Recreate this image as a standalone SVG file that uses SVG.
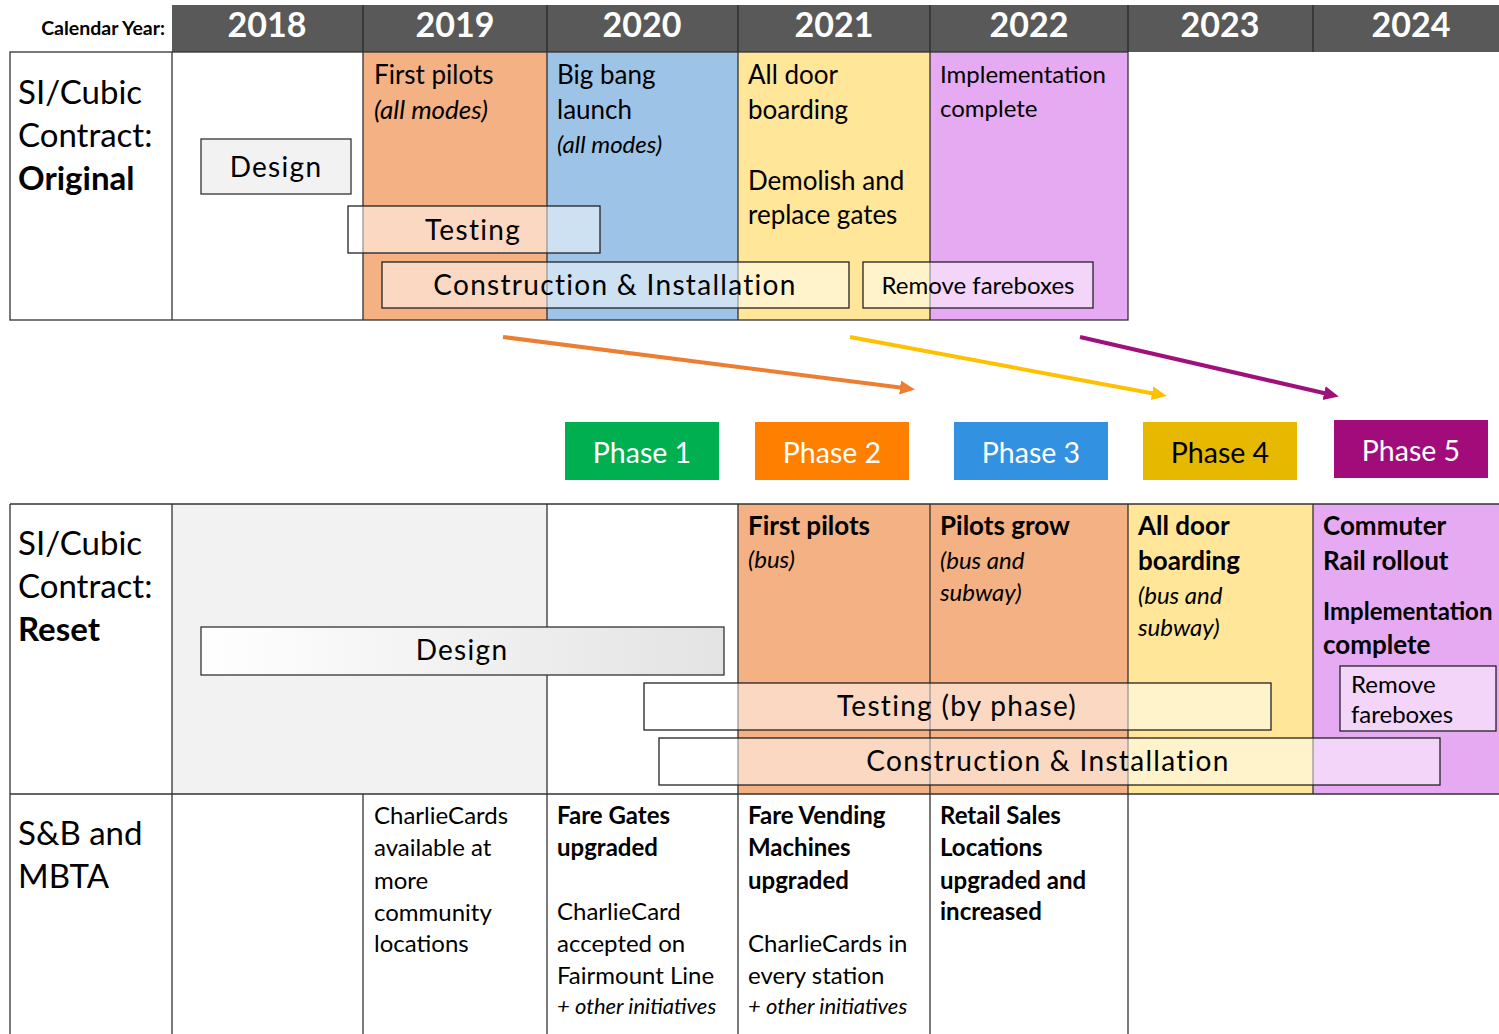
<svg xmlns="http://www.w3.org/2000/svg" width="1499" height="1034" viewBox="0 0 1499 1034">
<style>
text{font-family:Lato,"Liberation Sans",sans-serif;fill:#000}
.yr{font-size:34px;font-weight:bold;fill:#fff;text-anchor:middle}
.lab{font-size:33px}
.c{font-size:26px}
.s{font-size:24px}
.i{font-style:italic}
.b{font-weight:bold}
.sm{font-size:22px;font-style:italic}
.bar{fill:#fff;fill-opacity:.5;stroke:#222;stroke-width:1.3}
.bt{font-size:28px;letter-spacing:1.3px;text-anchor:middle}
.grid{stroke:#333;stroke-width:1.3;fill:none}
.ph{font-size:28.5px;fill:#fff;text-anchor:middle}
</style>
<defs>
<linearGradient id="gd" x1="0" x2="1" y1="0" y2="0"><stop offset="0" stop-color="#fff"/><stop offset="1" stop-color="#e3e3e3"/></linearGradient>
<marker id="mo" markerUnits="userSpaceOnUse" markerWidth="16" markerHeight="16" refX="4" refY="8" orient="auto"><path d="M0,1 L15,8 L0,15 z" fill="#ED7D31"/></marker>
<marker id="my" markerUnits="userSpaceOnUse" markerWidth="16" markerHeight="16" refX="4" refY="8" orient="auto"><path d="M0,1 L15,8 L0,15 z" fill="#FFC000"/></marker>
<marker id="mp" markerUnits="userSpaceOnUse" markerWidth="16" markerHeight="16" refX="4" refY="8" orient="auto"><path d="M0,1 L15,8 L0,15 z" fill="#A0107A"/></marker>
</defs>
<rect width="1499" height="1034" fill="#fff"/>

<g id="header">
<rect x="172" y="5" width="1327" height="47" fill="#595959"/>
<path d="M363,5V52M547,5V52M738,5V52M930,5V52M1128,5V52M1313,5V52" stroke="#2a2a2a" stroke-width="1.3"/>
<text x="165" y="35" font-size="19.5" font-weight="bold" text-anchor="end">Calendar Year:</text>
<text class="yr" x="267" y="37">2018</text>
<text class="yr" x="455" y="37">2019</text>
<text class="yr" x="642" y="37">2020</text>
<text class="yr" x="834" y="37">2021</text>
<text class="yr" x="1029" y="37">2022</text>
<text class="yr" x="1220" y="37">2023</text>
<text class="yr" x="1411" y="37">2024</text>
</g>

<g id="original">
<rect x="363" y="52" width="184" height="268" fill="#F4B183"/>
<rect x="547" y="52" width="191" height="268" fill="#9DC3E6"/>
<rect x="738" y="52" width="192" height="268" fill="#FFE699"/>
<rect x="930" y="52" width="198" height="268" fill="#E5AAF1"/>
<rect class="grid" x="10" y="52" width="1118" height="268"/>
<path class="grid" d="M172,52V320M363,52V320M547,52V320M738,52V320M930,52V320"/>
<text class="lab" x="18" y="104">SI/Cubic</text>
<text class="lab" x="18" y="147">Contract:</text>
<text class="lab b" x="18" y="190">Original</text>
<text class="c" x="374" y="84">First pilots</text>
<text class="c i" x="374" y="119">(all modes)</text>
<text class="c" x="557" y="84">Big bang</text>
<text class="c" x="557" y="119">launch</text>
<text class="s i" x="557" y="153">(all modes)</text>
<text class="c" x="748" y="84">All door</text>
<text class="c" x="748" y="119">boarding</text>
<text class="c" x="748" y="190">Demolish and</text>
<text class="c" x="748" y="224">replace gates</text>
<text class="s" x="940" y="83">Implementation</text>
<text class="s" x="940" y="117">complete</text>
</g>

<g id="o-design">
<rect x="201" y="139" width="150" height="55" fill="#f2f2f2" stroke="#333" stroke-width="1.3"/>
<text class="bt" x="276" y="177">Design</text>
</g>
<g id="o-testing">
<rect class="bar" x="348" y="206" width="252" height="47"/>
<text class="bt" x="473" y="240">Testing</text>
</g>
<g id="o-construction">
<rect class="bar" x="382" y="262" width="467" height="46"/>
<text class="bt" x="615" y="295">Construction &amp; Installation</text>
</g>
<g id="o-fareboxes">
<rect class="bar" x="863" y="262" width="230" height="46"/>
<text class="s" x="978" y="294" text-anchor="middle">Remove fareboxes</text>
</g>

<g id="connectors" stroke-width="4" fill="none">
<line x1="503" y1="337" x2="904" y2="388" stroke="#ED7D31" marker-end="url(#mo)"/>
<line x1="850" y1="337" x2="1156" y2="394" stroke="#FFC000" marker-end="url(#my)"/>
<line x1="1080" y1="337" x2="1328" y2="394" stroke="#A0107A" marker-end="url(#mp)"/>
</g>

<g id="phase1"><rect x="565" y="422" width="154" height="58" fill="#00B050"/><text class="ph" x="642" y="463">Phase 1</text></g>
<g id="phase2"><rect x="755" y="422" width="154" height="58" fill="#FF8000"/><text class="ph" x="832" y="463">Phase 2</text></g>
<g id="phase3"><rect x="954" y="422" width="154" height="58" fill="#3391E1"/><text class="ph" x="1031" y="463">Phase 3</text></g>
<g id="phase4"><rect x="1143" y="422" width="154" height="58" fill="#E6B800"/><text class="ph" x="1220" y="463" style="fill:#000">Phase 4</text></g>
<g id="phase5"><rect x="1334" y="420" width="154" height="58" fill="#A20C7A"/><text class="ph" x="1411" y="461">Phase 5</text></g>

<g id="reset">
<rect x="172" y="504" width="375" height="290" fill="#f2f2f2"/>
<rect x="738" y="504" width="390" height="290" fill="#F4B183"/>
<rect x="1128" y="504" width="185" height="290" fill="#FFE699"/>
<rect x="1313" y="504" width="186" height="290" fill="#E5AAF1"/>
<path class="grid" d="M10,504H1499M10,794H1499M10,504V1034M172,504V1034M547,504V1034M738,504V1034M930,504V1034M1128,504V1034M1313,504V794M363,794V1034"/>
<text class="lab" x="18" y="555">SI/Cubic</text>
<text class="lab" x="18" y="598">Contract:</text>
<text class="lab b" x="18" y="641">Reset</text>
<text class="c b" x="748" y="535">First pilots</text>
<text class="s i" x="748" y="568">(bus)</text>
<text class="c b" x="940" y="535">Pilots grow</text>
<text class="s i" x="940" y="569">(bus and</text>
<text class="s i" x="940" y="601">subway)</text>
<text class="c b" x="1138" y="535">All door</text>
<text class="c b" x="1138" y="570">boarding</text>
<text class="s i" x="1138" y="604">(bus and</text>
<text class="s i" x="1138" y="636">subway)</text>
<text class="c b" x="1323" y="535">Commuter</text>
<text class="c b" x="1323" y="570">Rail rollout</text>
<text class="s b" x="1323" y="620">Implementation</text>
<text class="c b" x="1323" y="654">complete</text>
</g>

<g id="r-design">
<rect x="201" y="627" width="523" height="48" fill="url(#gd)" stroke="#333" stroke-width="1.3"/>
<text class="bt" x="462" y="660">Design</text>
</g>
<g id="r-fareboxes">
<rect class="bar" x="1340" y="666" width="156" height="65"/>
<text class="s" x="1351" y="693">Remove</text>
<text class="s" x="1351" y="723">fareboxes</text>
</g>
<g id="r-testing">
<rect class="bar" x="644" y="683" width="627" height="47"/>
<text class="bt" x="957" y="716">Testing (by phase)</text>
</g>
<g id="r-construction">
<rect class="bar" x="659" y="738" width="781" height="47"/>
<text class="bt" x="1048" y="771">Construction &amp; Installation</text>
</g>

<g id="sb">
<text class="lab" x="18" y="845">S&amp;B and</text>
<text class="lab" x="18" y="888">MBTA</text>
<text class="s" x="374" y="824">CharlieCards</text>
<text class="s" x="374" y="856">available at</text>
<text class="s" x="374" y="889">more</text>
<text class="s" x="374" y="921">community</text>
<text class="s" x="374" y="952">locations</text>
<text class="s b" x="557" y="824">Fare Gates</text>
<text class="s b" x="557" y="856">upgraded</text>
<text class="s" x="557" y="920">CharlieCard</text>
<text class="s" x="557" y="952">accepted on</text>
<text class="s" x="557" y="984">Fairmount Line</text>
<text class="sm" x="557" y="1014">+ other initiatives</text>
<text class="s b" x="748" y="824">Fare Vending</text>
<text class="s b" x="748" y="856">Machines</text>
<text class="s b" x="748" y="889">upgraded</text>
<text class="s" x="748" y="952">CharlieCards in</text>
<text class="s" x="748" y="984">every station</text>
<text class="sm" x="748" y="1014">+ other initiatives</text>
<text class="s b" x="940" y="824">Retail Sales</text>
<text class="s b" x="940" y="856">Locations</text>
<text class="s b" x="940" y="889">upgraded and</text>
<text class="s b" x="940" y="920">increased</text>
</g>
</svg>
